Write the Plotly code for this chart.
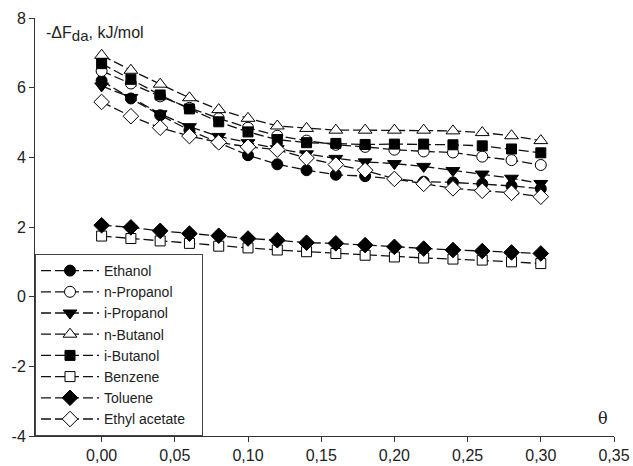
import plotly.graph_objects as go

theta = [0.00, 0.02, 0.04, 0.06, 0.08, 0.10, 0.12, 0.14,
         0.16, 0.18, 0.20, 0.22, 0.24, 0.26, 0.28, 0.30]

ethanol = [6.20, 5.69, 5.21, 4.78, 4.42, 4.06, 3.80, 3.63,
           3.50, 3.46, 3.38, 3.30, 3.28, 3.24, 3.18, 3.10]
n_propanol = [6.48, 6.12, 5.75, 5.42, 5.12, 4.85, 4.62, 4.48,
              4.36, 4.30, 4.22, 4.17, 4.14, 4.02, 3.92, 3.78]
i_propanol = [6.05, 5.72, 5.25, 4.88, 4.60, 4.42, 4.25, 4.10,
              3.97, 3.87, 3.82, 3.74, 3.62, 3.52, 3.40, 3.25]
n_butanol = [6.93, 6.50, 6.10, 5.71, 5.37, 5.12, 4.90, 4.83,
             4.78, 4.78, 4.78, 4.78, 4.76, 4.71, 4.62, 4.48]
i_butanol = [6.69, 6.24, 5.79, 5.39, 5.02, 4.73, 4.51, 4.42,
             4.40, 4.37, 4.38, 4.38, 4.36, 4.33, 4.24, 4.13]
benzene = [1.74, 1.67, 1.60, 1.53, 1.45, 1.40, 1.34, 1.29,
           1.24, 1.19, 1.14, 1.11, 1.08, 1.05, 1.00, 0.95]
toluene = [2.05, 1.99, 1.89, 1.81, 1.75, 1.67, 1.62, 1.55,
           1.53, 1.48, 1.43, 1.38, 1.34, 1.31, 1.27, 1.24]
ethyl_acetate = [5.59, 5.18, 4.85, 4.61, 4.43, 4.30, 4.22, 3.98,
                 3.79, 3.63, 3.38, 3.24, 3.11, 3.04, 2.98, 2.87]

names = ["Ethanol", "n-Propanol", "i-Propanol", "n-Butanol",
         "i-Butanol", "Benzene", "Toluene", "Ethyl acetate"]
series = [ethanol, n_propanol, i_propanol, n_butanol,
          i_butanol, benzene, toluene, ethyl_acetate]
symbols = ["circle", "circle", "triangle-down", "triangle-up",
           "square", "square", "diamond", "diamond"]
fills = ["black", "white", "black", "white",
         "black", "white", "black", "white"]
sizes = [11, 11, 12, 12, 10, 10, 12, 12]

x_ticks = [0, 0.05, 0.1, 0.15, 0.2, 0.25, 0.3, 0.35]
y_ticks = [-4, -2, 0, 2, 4, 6, 8]
y_ticktext = ["-4", "-2", "0", "2", "4", "6", "8"]

# invisible trailing padding widens the legend box like the reference
longest = max(names, key=len)

fig = go.Figure()
for name, ys, sym, fc, sz in zip(names, series, symbols, fills, sizes):
    label = name + "\u00a0" * 3 if name == longest else name
    fig.add_trace(go.Scatter(
        x=theta, y=ys, name=label, mode="lines+markers",
        line=dict(color="#111", width=1.3, dash="10px,4px"),
        marker=dict(symbol=sym, size=sz, color=fc,
                    line=dict(color="black", width=1)),
    ))

fig.update_layout(
    width=633, height=466,
    margin=dict(l=35, r=19, t=18, b=30),
    paper_bgcolor="white", plot_bgcolor="white",
    separators=", ",
    font=dict(family="Liberation Sans, Arial, sans-serif", size=16, color="#222"),
    showlegend=True,
    legend=dict(x=0, y=0, xanchor="left", yanchor="bottom",
                bgcolor="white", bordercolor="#444", borderwidth=1,
                font=dict(size=14, color="#222"), itemwidth=58,
                tracegroupgap=0),
    xaxis=dict(range=[-0.0455, 0.35], tickvals=x_ticks,
               tickformat=".2f", showgrid=False, zeroline=False,
               showline=True, linecolor="#333", linewidth=1,
               ticks="outside", ticklen=5, tickcolor="#333",
               automargin=False),
    yaxis=dict(range=[-4, 8], tickvals=y_ticks, ticktext=y_ticktext,
               showgrid=False, zeroline=False,
               showline=True, linecolor="#333", linewidth=1,
               ticks="outside", ticklen=5, tickcolor="#333",
               automargin=False),
    annotations=[
        dict(text="-ΔF<sub><span style='font-size:15px'>da</span></sub>, kJ/mol",
             xref="paper", yref="paper",
             x=0.015, y=0.962, xanchor="left", yanchor="middle",
             showarrow=False, font=dict(size=16, color="#222")),
        dict(text="θ", xref="x", yref="y",
             x=0.3425, y=-3.49, xanchor="center", yanchor="middle",
             showarrow=False, font=dict(size=16, color="#222",
                                        family="DejaVu Serif, serif")),
    ],
)

fig.write_html("out.html")
